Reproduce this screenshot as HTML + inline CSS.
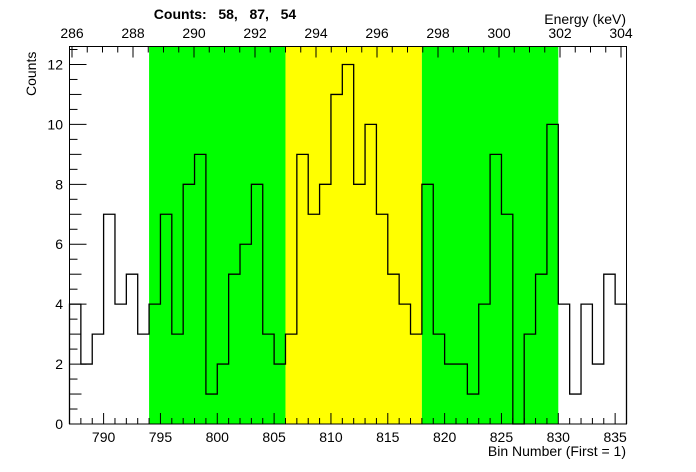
<!DOCTYPE html>
<html><head><meta charset="utf-8"><style>
body{margin:0;background:#fff}
svg{display:block;font-family:"Liberation Sans",Arial,sans-serif}
</style></head><body>
<svg id="c" width="696" height="472">
<g id="bands"></g>
<g id="hist"></g>
<g id="axes"></g>
<text x="225" y="19" font-size="14" font-weight="bold" text-anchor="middle" xml:space="preserve">Counts:   58,   87,   54</text>
<text x="626" y="24" font-size="14" text-anchor="end">Energy (keV)</text>
<text x="626" y="456" font-size="14" text-anchor="end">Bin Number (First = 1)</text>
<text transform="translate(36,96) rotate(-90)" font-size="14">Counts</text>
</svg>
<script>
const binStart = 787;
const counts = [4,2,3,7,4,5,3, 4,7,3,8,9,1,2,5,6,8,3,2, 3,9,7,8,11,12,8,10,7,5,4,3, 8,3,2,2,1,4,9,7,0,3,5,10, 4,1,4,2,5,4];
const bandEdges = [794,806,818,830];
const bandColors = ["#00ff00","#ffff00","#00ff00"];
const xTickLabels = [790,795,800,805,810,815,820,825,830,835];
const yTickLabels = [0,2,4,6,8,10,12];
const eTickLabels = [286,288,290,292,294,296,298,300,302,304];

const L=69.5,R=626.5,T=46.5,B=424;
const xMin=787,xMax=836,yMax=12.6;
const X=v=>L+(v-xMin)/(xMax-xMin)*(R-L);
const Y=v=>B-v/yMax*(B-T);
const E=e=>194+(e-290)*30.5;
const NS="http://www.w3.org/2000/svg";
function mk(tag,attrs,parent){const e=document.createElementNS(NS,tag);for(const k in attrs)e.setAttribute(k,attrs[k]);parent.appendChild(e);return e;}
const bands=document.getElementById('bands'),hist=document.getElementById('hist'),axes=document.getElementById('axes');
for(let i=0;i<bandColors.length;i++){
  const r=mk('rect',{x:X(bandEdges[i]),y:T,width:X(bandEdges[i+1])-X(bandEdges[i]),height:B-T,fill:bandColors[i]},bands);
  
  
}
let d='M'+L+','+B;
for(let i=0;i<counts.length;i++){
  const x0=X(binStart+i),x1=X(binStart+i+1),y=Y(counts[i]);
  d+=' L'+x0+','+y+' L'+x1+','+y;
}
d+=' L'+R+','+B;
const p=mk('path',{d:d,fill:'none',stroke:'#000','stroke-width':1.3},hist);


const fr=mk('rect',{x:L,y:T,width:R-L,height:B-T,fill:'none',stroke:'#000','stroke-width':1},axes);


// bottom ticks
for(let v=xMin;v<=xMax;v++){
  const len=(v%5===0)?11:6;
  mk('line',{x1:X(v),x2:X(v),y1:B,y2:B-len,stroke:'#000'},axes);
}
for(const v of xTickLabels){
  const t=mk('text',{x:X(v),y:442,'font-size':14,'text-anchor':'middle'},axes);
  t.textContent=v;
  
  
}
// left ticks
for(let k=0;k<=25;k++){
  const v=k/2; if(v>yMax)break;
  const len=(v%2===0)?17:(v%1===0?12:8);
  mk('line',{x1:L,x2:L+len,y1:Y(v),y2:Y(v),stroke:'#000'},axes);
}
for(const v of yTickLabels){
  const t=mk('text',{x:63,y:Y(v)+5,'font-size':14,'text-anchor':'end'},axes);
  t.textContent=v;
  
  
}
// top energy ticks
for(let e=286;e<=304;e+=0.5){
  const x=E(e); if(x<L||x>R)continue;
  const len=(e%2===0)?11:6;
  mk('line',{x1:x,x2:x,y1:T,y2:T+len,stroke:'#000'},axes);
}
for(const v of eTickLabels){
  const t=mk('text',{x:E(v),y:38,'font-size':14,'text-anchor':'middle'},axes);
  t.textContent=v;
  
  
}
</script>
</body></html>
